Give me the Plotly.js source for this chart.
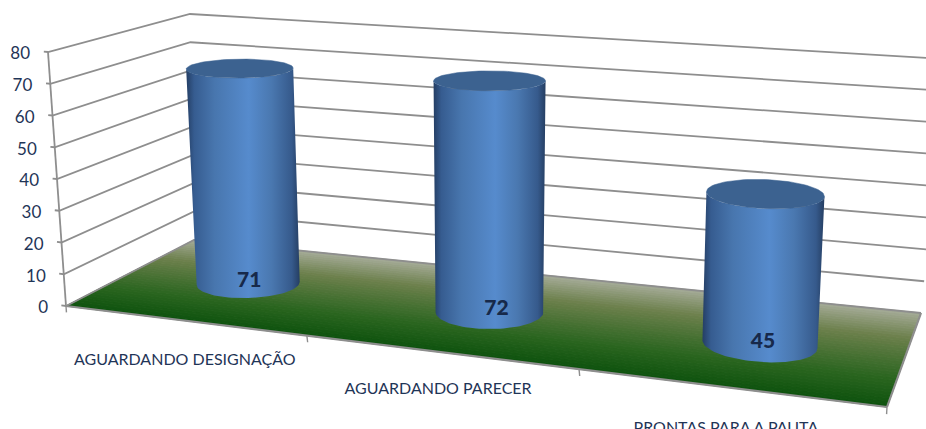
<!DOCTYPE html>
<html><head><meta charset="utf-8">
<script src="https://cdn.plot.ly/plotly-3.0.0.min.js"></script>
<style>html,body{margin:0;padding:0;background:#fff;overflow:hidden}</style>
</head><body><div id="chart" style="width:926px;height:429px"></div>
<script>
// ---- data ----
const categories = ["AGUARDANDO DESIGNAÇÃO", "AGUARDANDO PARECER", "PRONTAS PARA A PAUTA"];
const values = [71, 72, 45];
const valueTicks = [0, 10, 20, 30, 40, 50, 60, 70, 80];
const zMax = 80;

// ---- perspective box: screen corners of floor and of the z=80 plane (FL, FR, BR, BL) ----
const floorQuad = [[66,306],[887,407],[921,313],[194,240]];
const topQuad   = [[48,52],[904,123],[946,59],[190,14]];
function makeH(q){
  const [[x0,y0],[x1,y1],[x2,y2],[x3,y3]] = q;
  const dx1=x1-x2,dx2=x3-x2,sx=x0-x1+x2-x3,dy1=y1-y2,dy2=y3-y2,sy=y0-y1+y2-y3;
  const den=dx1*dy2-dx2*dy1;
  const g=(sx*dy2-dx2*sy)/den,h=(dx1*sy-sx*dy1)/den;
  const a=x1-x0+g*x1,b=x3-x0+h*x3,d=y1-y0+g*y1,e=y3-y0+h*y3;
  return (u,v)=>{const w=g*u+h*v+1;return [(a*u+b*v+x0)/w,(d*u+e*v+y0)/w];};
}
const Hf=makeH(floorQuad),Ht=makeH(topQuad);
function P(u,v,z){const a=Hf(u,v),b=Ht(u,v),t=z/zMax;return [a[0]+(b[0]-a[0])*t,a[1]+(b[1]-a[1])*t];}

// ---- styling ----
const gridColor="#8e8e8e", textColor="#1f3557", labelColor="#17294a", capColor="#3c6290";
const catU=[0.1667,0.5,0.8333], catZ=[-12.6,-11.5,-12];
const catTicks=[0,0.339,0.673,1];
const cylU=[0.1744,0.5122,0.8425], cylV=[0.5,0.48,0.455];
const lean=[-0.12,0,0.122];           // screen px of sideways drift per value unit
const topDy=[2,-1.5,-1];
const labelDx=[1,7,3];
const baseRx=[51.5,54,57.5], topRx=[53.5,56,59];
const baseRy=[14.5,17,17.5], topRy=[9.5,10,14.5];
const baseTilt=[-0.03,0,0.07], topTilt=[-0.01,0,0.04];
const sideScale=[[0,"rgb(36,62,100)"],[0.07,"rgb(54,92,144)"],[0.25,"rgb(72,118,174)"],[0.55,"rgb(86,139,205)"],[0.75,"rgb(74,120,176)"],[0.93,"rgb(54,90,140)"],[1,"rgb(37,62,98)"]];
const floorStops=[[0,[14,82,14]],[0.25,[40,100,30]],[0.7,[108,128,76]],[1,[165,171,152]]];
function mix(stops,t){
  for(let i=1;i<stops.length;i++){ if(t<=stops[i][0]){
    const [a,ca]=stops[i-1],[b,cb]=stops[i],k=(t-a)/(b-a);
    return "rgb("+ca.map((c,j)=>Math.round(c+(cb[j]-c)*k)).join(",")+")";
  }}
  return "rgb("+stops[stops.length-1][1].join(",")+")";
}
const traces=[];
function poly(pts,color,lw){
  const c=pts.concat([pts[0]]);
  traces.push({x:c.map(p=>p[0]),y:c.map(p=>p[1]),type:"scatter",mode:"lines",fill:"toself",fillcolor:color,
    line:{color:color,width:lw===undefined?1:lw},hoverinfo:"skip",showlegend:false});
}
function line(a,b,w){
  traces.push({x:[a[0],b[0]],y:[a[1],b[1]],type:"scatter",mode:"lines",line:{color:gridColor,width:w||1.8},hoverinfo:"skip",showlegend:false});
}
function text(p,s,size,pos,bold,color){
  traces.push({x:[p[0]],y:[p[1]],text:[s],type:"scatter",mode:"text",textposition:pos,cliponaxis:true,
    textfont:{family:"Lato, 'Open Sans', sans-serif",size:size,color:color||textColor,weight:bold?900:400},hoverinfo:"skip",showlegend:false});
}
// floor
const NF=36;
for(let i=0;i<NF;i++){
  const v0=i/NF,v1=(i+1)/NF;
  poly([P(0,v0,0),P(1,v0,0),P(1,v1,0),P(0,v1,0)],mix(floorStops,(v0+v1)/2));
}
// grid on walls + value ticks
valueTicks.forEach(z=>{
  const pts=[P(-0.007,0,z),P(0,0,z),P(0,1,z),P(1,1,z)];
  traces.push({x:pts.map(p=>p[0]),y:pts.map(p=>p[1]),type:"scatter",mode:"lines",line:{color:gridColor,width:1.8},hoverinfo:"skip",showlegend:false});
});
line(P(0,0,0),P(0,0,zMax));
line(P(0,0,0),P(1,0,0),2.2);
line(P(1,0,0),P(1,1,0),2.2);
catTicks.forEach(u=>line(P(u,0,0),P(u,0,-2),1.4));
// cylinders
values.forEach((val,i)=>{
  const b=P(cylU[i],cylV[i],0),tz=P(cylU[i],cylV[i],val);
  const t=[b[0]+lean[i]*val,tz[1]+topDy[i]];
  const eb=th=>{const dx=baseRx[i]*Math.cos(th);return [b[0]+dx,b[1]-baseRy[i]*Math.sin(th)+baseTilt[i]*dx];};
  const et=th=>{const dx=topRx[i]*Math.cos(th);return [t[0]+dx,t[1]-topRy[i]*Math.sin(th)+topTilt[i]*dx];};
  const side=[],N=48;
  for(let k=0;k<=N;k++)side.push(et(Math.PI+Math.PI*k/N));
  for(let k=N;k>=0;k--)side.push(eb(Math.PI+Math.PI*k/N));
  const c=side.concat([side[0]]);
  traces.push({x:c.map(p=>p[0]),y:c.map(p=>p[1]),type:"scatter",mode:"lines",fill:"toself",
    fillgradient:{type:"horizontal",colorscale:sideScale},line:{width:0},hoverinfo:"skip",showlegend:false});
  const cap=[];
  for(let k=0;k<96;k++)cap.push(et(k/96*2*Math.PI));
  poly(cap,capColor,0.5);
});
// labels
valueTicks.forEach(z=>{const p=P(0,0,z);text([p[0]-18,p[1]+3],String(z),17,"middle left",false);});
categories.forEach((c,i)=>text(P(catU[i],0,catZ[i]),c,16,"middle center",false));
values.forEach((val,i)=>{const b=P(cylU[i],cylV[i],0);text([b[0]+labelDx[i],b[1]-2],String(val),21,"middle center",true,labelColor);});

Plotly.newPlot("chart",traces,{
  width:926,height:429,margin:{l:0,r:0,t:0,b:0},paper_bgcolor:"#fff",plot_bgcolor:"#fff",showlegend:false,
  xaxis:{range:[0,926],visible:false,fixedrange:true},
  yaxis:{range:[429,0],visible:false,fixedrange:true}
},{displayModeBar:false,staticPlot:true});
</script></body></html>
